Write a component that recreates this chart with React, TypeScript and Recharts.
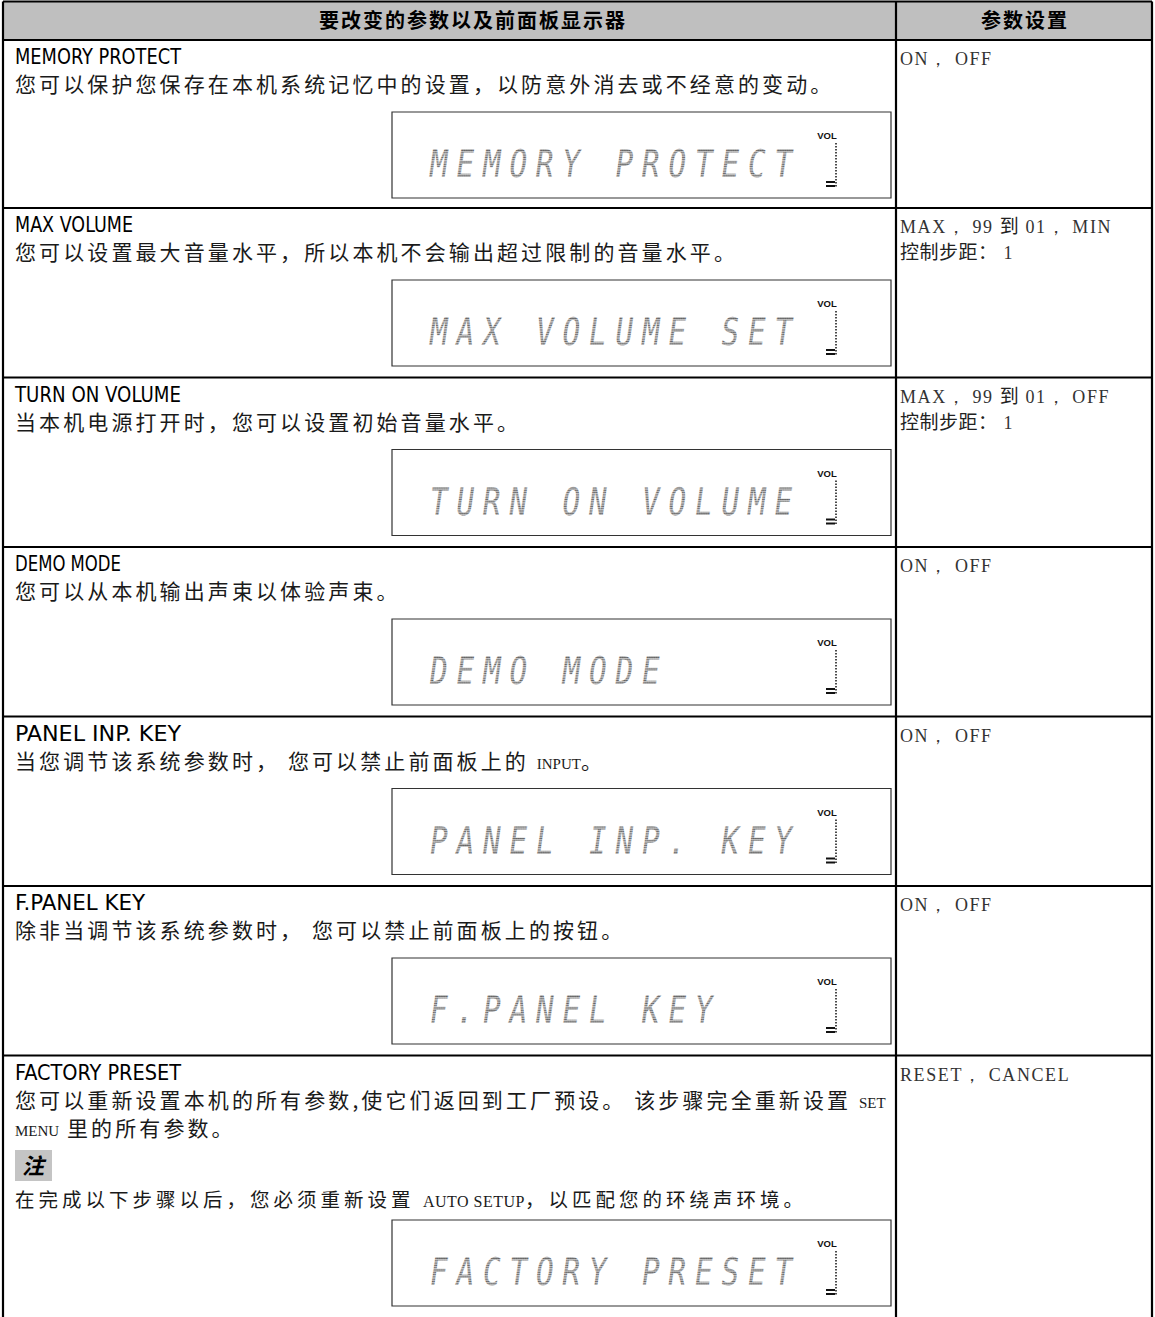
import React from 'react';
import { ComposedChart, XAxis, YAxis, ReferenceArea, ReferenceLine, Customized } from 'recharts';

const W = 1155;
const H = 1317;

// ---------- content ----------
const headerLabels = ['要改变的参数以及前面板显示器', '参数设置'];
const paramNames = [
  'MEMORY PROTECT',
  'MAX VOLUME',
  'TURN ON VOLUME',
  'DEMO MODE',
  'PANEL INP. KEY',
  'F.PANEL KEY',
  'FACTORY PRESET',
];
// `...` marks Latin words set in the small serif face
const descriptions: string[][] = [
  ['您可以保护您保存在本机系统记忆中的设置，以防意外消去或不经意的变动。'],
  ['您可以设置最大音量水平，所以本机不会输出超过限制的音量水平。'],
  ['当本机电源打开时，您可以设置初始音量水平。'],
  ['您可以从本机输出声束以体验声束。'],
  ['当您调节该系统参数时， 您可以禁止前面板上的 `INPUT`。'],
  ['除非当调节该系统参数时， 您可以禁止前面板上的按钮。'],
  ['您可以重新设置本机的所有参数,使它们返回到工厂预设。 该步骤完全重新设置 `SET`', '`MENU` 里的所有参数。'],
];
const noteLabel = '注';
const noteText = '在完成以下步骤以后，您必须重新设置 `AUTO SETUP`，以匹配您的环绕声环境。';
const displayTexts = [
  'MEMORY PROTECT',
  'MAX VOLUME SET',
  'TURN ON VOLUME',
  'DEMO MODE',
  'PANEL INP. KEY',
  'F.PANEL KEY',
  'FACTORY PRESET',
];
const volLabel = 'VOL';
// ~...~ marks Chinese characters inside serif setting text
const settings: string[][] = [
  ['ON， OFF'],
  ['MAX， 99 ~到~ 01， MIN', '~控制步距：~ 1'],
  ['MAX， 99 ~到~ 01， OFF', '~控制步距：~ 1'],
  ['ON， OFF'],
  ['ON， OFF'],
  ['ON， OFF'],
  ['RESET， CANCEL'],
];

// ---------- layout ----------
const LEFT = 3;
const RIGHT = 1152;
const DIV = 896;
const TOP = 1.5;
const HEAD = 40;
const rowTop = (i: number) => (i === 0 ? HEAD : 208 + (i - 1) * 169.5);
const LCD_X1 = 392;
const LCD_X2 = 891;
const LCD_H = 86;
const lcdTop = (i: number) => (i === paramNames.length - 1 ? 1220 : rowTop(i) + 72);

const CJK = '"Noto Sans CJK SC", "Noto Sans", sans-serif';
const SERIF = '"Liberation Serif", "DejaVu Serif", serif';
const NARROW = '"Liberation Sans Narrow", "DejaVu Sans Condensed", "Liberation Sans", sans-serif';

const frame = [
  { x: 0, y: 0 },
  { x: W, y: H },
];

function Rich({ x, y, text, mark, base, alt }: any) {
  const parts = text.split(mark);
  return (
    <text x={x} y={y} style={{ whiteSpace: 'pre' }}>
      {parts.map((p: string, k: number) =>
        p.length ? (
          <tspan key={k} {...(k % 2 === 0 ? base : alt)}>
            {p}
          </tspan>
        ) : null
      )}
    </text>
  );
}

const descBase = { fontFamily: CJK, fontSize: 21, letterSpacing: 3.1, fill: '#1a1a1a' };
const descAlt = { fontFamily: SERIF, fontSize: 15, letterSpacing: 0, fill: '#1a1a1a' };
const setBase = { fontFamily: SERIF, fontSize: 18, letterSpacing: 1.6, fill: '#333' };
const setAlt = { fontFamily: CJK, fontSize: 19, letterSpacing: 0.5, fill: '#222', fontWeight: 400 };

const TextLayer = () => (
  <g>
    <defs>
      <pattern id="lcdDots" width={2.3} height={2.3} patternUnits="userSpaceOnUse">
        <rect x={0.35} y={0.35} width={1.5} height={1.5} fill="#1a1a1a" />
      </pattern>
    </defs>
    <rect x={LEFT} y={TOP} width={RIGHT - LEFT} height={HEAD - TOP} fill="#bfbfbf" />
    <text x={473} y={28} textAnchor="middle" fontFamily={CJK} fontWeight={700} fontSize={20} letterSpacing={2} fill="#000">
      {headerLabels[0]}
    </text>
    <text x={1025} y={28} textAnchor="middle" fontFamily={CJK} fontWeight={700} fontSize={20} letterSpacing={2} fill="#000">
      {headerLabels[1]}
    </text>
    {paramNames.map((name, i) => {
      const T = rowTop(i);
      const lt = lcdTop(i);
      return (
        <g key={name}>
          <text
            x={15}
            y={T + 24}
            fontFamily={NARROW}
            fontSize={22}
            textLength={name.length * 12 - 2}
            lengthAdjust="spacingAndGlyphs"
            fill="#000"
          >
            {name}
          </text>
          {descriptions[i].map((line, j) => (
            <Rich key={j} x={15} y={T + 52 + j * 28} text={line} mark="`" base={descBase} alt={descAlt} />
          ))}
          {settings[i].map((line, j) => (
            <Rich key={'s' + j} x={900} y={T + 25 + j * 26} text={line} mark="~" base={setBase} alt={setAlt} />
          ))}
          <g transform={`translate(428,${lt + 65}) skewX(-8) scale(0.78,1)`}>
            <text x={0} y={0} fontFamily='"DejaVu Sans Mono", "Liberation Mono", monospace' fontSize={38} letterSpacing={11.1} fill="url(#lcdDots)">
              {displayTexts[i]}
            </text>
          </g>
          <text x={827} y={lt + 27} textAnchor="middle" fontFamily='"Liberation Sans", Arial, sans-serif' fontWeight={700} fontSize={9.5} fill="#111">
            {volLabel}
          </text>
          <line x1={836} x2={836} y1={lt + 31} y2={lt + 76} stroke="#111" strokeWidth={1.5} strokeDasharray="1.6 1.4" />
          <line x1={826} x2={835} y1={lt + 70} y2={lt + 70} stroke="#111" strokeWidth={2} />
          <line x1={826} x2={835} y1={lt + 74} y2={lt + 74} stroke="#111" strokeWidth={2} />
        </g>
      );
    })}
    <rect x={15} y={1150} width={37} height={31} fill="#c4c4c4" />
    <text x={33} y={1174} textAnchor="middle" fontFamily={CJK} fontStyle="italic" fontWeight={700} fontSize={22} fill="#000">
      {noteLabel}
    </text>
    <Rich
      x={15}
      y={1207}
      text={noteText}
      mark="`"
      base={{ fontFamily: CJK, fontSize: 19.5, letterSpacing: 4, fill: '#1a1a1a' }}
      alt={{ fontFamily: SERIF, fontSize: 16, letterSpacing: 0.5, fill: '#1a1a1a' }}
    />
  </g>
);

export default function App() {
  const rowLines = paramNames.slice(1).map((_, k) => rowTop(k + 1));
  return (
    <div style={{ position: 'absolute', left: 0, top: 0, width: W, height: H, background: '#fff' }}>
      <ComposedChart width={W} height={H} data={frame} margin={{ top: 0, right: 0, bottom: 0, left: 0 }}>
        <XAxis type="number" dataKey="x" domain={[0, W]} hide allowDataOverflow />
        <YAxis type="number" dataKey="y" domain={[0, H]} reversed hide allowDataOverflow />
        <Customized component={TextLayer} />
        {paramNames.map((n, i) => (
          <ReferenceArea
            key={'lcd' + n}
            x1={LCD_X1}
            x2={LCD_X2}
            y1={lcdTop(i)}
            y2={lcdTop(i) + LCD_H}
            fill="none"
            fillOpacity={0}
            stroke="#333"
            strokeWidth={1.2}
            ifOverflow="visible"
          />
        ))}
        <ReferenceLine segment={[{ x: LEFT, y: TOP }, { x: RIGHT, y: TOP }]} stroke="#000" strokeWidth={2.2} ifOverflow="visible" />
        <ReferenceLine segment={[{ x: LEFT, y: HEAD }, { x: RIGHT, y: HEAD }]} stroke="#000" strokeWidth={2.2} ifOverflow="visible" />
        {rowLines.map((y) => (
          <ReferenceLine key={'r' + y} segment={[{ x: LEFT, y }, { x: RIGHT, y }]} stroke="#000" strokeWidth={2.2} ifOverflow="visible" />
        ))}
        <ReferenceLine segment={[{ x: LEFT, y: TOP }, { x: LEFT, y: H }]} stroke="#000" strokeWidth={2.2} ifOverflow="visible" />
        <ReferenceLine segment={[{ x: DIV, y: TOP }, { x: DIV, y: H }]} stroke="#000" strokeWidth={2.2} ifOverflow="visible" />
        <ReferenceLine segment={[{ x: RIGHT, y: TOP }, { x: RIGHT, y: H }]} stroke="#000" strokeWidth={2.2} ifOverflow="visible" />
      </ComposedChart>
    </div>
  );
}
